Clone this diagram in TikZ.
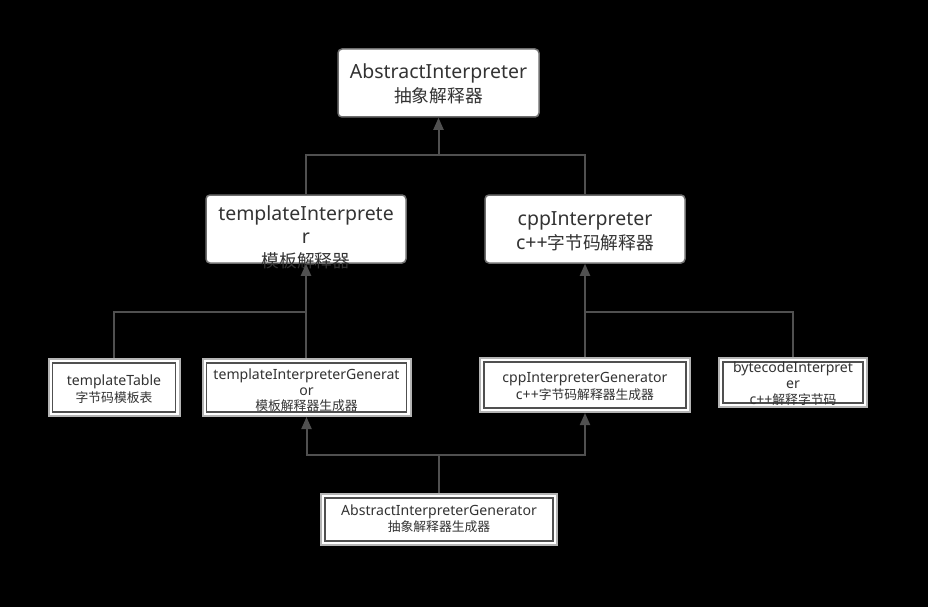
\documentclass[tikz,border=0pt]{standalone}
\usepackage{fontspec}
\setmainfont{Noto Sans}[Scale=1.1]
\newfontfamily\cjk{Noto Sans CJK SC}
\usetikzlibrary{arrows.meta}
\definecolor{ln}{HTML}{505050}
\definecolor{tx}{HTML}{333333}
\definecolor{bd}{HTML}{6E6E6E}
\definecolor{od}{HTML}{B4B4B4}
\begin{document}
\begin{tikzpicture}[x=1pt,y=-1pt,
  rbox/.style={draw=bd, fill=white, rounded corners=4pt, line width=1.5pt, inner sep=0pt},
  dbox/.style={draw=od, fill=white, line width=2pt, inner sep=0pt,
    path picture={\draw[ln,line width=1.5pt] ([shift={(4pt,4pt)}]path picture bounding box.south west) rectangle ([shift={(-4pt,-4pt)}]path picture bounding box.north east);}},
  big/.style={font=\fontsize{17.7}{24}\selectfont, text=tx, align=center, inner sep=0pt},
  small/.style={font=\fontsize{12.8}{16.5}\selectfont, text=tx, align=center, inner sep=0pt},
  conn/.style={draw=ln, line width=2pt},
  arr/.style={conn, -{Triangle[width=10pt,length=12pt]}}]

\fill[black] (0,0) rectangle (928,607);
\useasboundingbox (0,0) rectangle (928,607);

% boxes
\node[rbox, minimum width=201pt, minimum height=68pt] (A) at (438.5,83) {};
\node[big] (At) at (438.5,84) {AbstractInterpreter\\{\cjk 抽象解释器}};

\node[rbox, minimum width=200pt, minimum height=68pt] (T) at (306,229) {};
\node[big, font=\fontsize{17.7}{23.5}\selectfont] (Tt) at (306,237) {templateInterprete\\r\\{\cjk 模板解释器}};

\node[rbox, minimum width=200pt, minimum height=68pt] (C) at (585,229) {};
\node[big] (Ct) at (585,231) {cppInterpreter\\c++{\cjk 字节码解释器}};

\node[dbox, minimum width=131pt, minimum height=57pt] (TT) at (114,387.5) {};
\node[small, font=\fontsize{12.8}{17}\selectfont] (TTt) at (114,389.5) {templateTable\\{\cjk 字节码模板表}};

\node[dbox, minimum width=208pt, minimum height=57pt] (TG) at (306.5,387.5) {};
\node[small, font=\fontsize{12.8}{15.5}\selectfont] (TGt) at (306.5,390.5) {templateInterpreterGenerat\\or\\{\cjk 模板解释器生成器}};

\node[dbox, minimum width=210pt, minimum height=54pt] (CG) at (585,385) {};
\node[small, font=\fontsize{12.8}{17}\selectfont] (CGt) at (585,386.5) {cppInterpreterGenerator\\c++{\cjk 字节码解释器生成器}};

\node[dbox, minimum width=148pt, minimum height=49pt] (BI) at (793,382.5) {};
\node[small, font=\fontsize{12.8}{16}\selectfont] (BIt) at (793,384) {bytecodeInterpret\\er\\c++{\cjk 解释字节码}};

\node[dbox, minimum width=236pt, minimum height=51pt] (AG) at (439,519.5) {};
\node[small, font=\fontsize{12.8}{16}\selectfont] (AGt) at (439,519) {AbstractInterpreterGenerator\\{\cjk 抽象解释器生成器}};

% connectors
\coordinate (j1) at (438.5,155);
\draw[conn] (T.north) |- (j1) -| (C.north);
\draw[arr] (j1) -- (A.south);

\coordinate (j2) at (306,312);
\draw[conn] (TT.north) |- (j2);
\draw[arr] (T.south |- TG.north) -- (T.south);

\coordinate (j3) at (585,312);
\draw[conn] (BI.north) |- (j3);
\draw[arr] (CG.north) -- (C.south);

\coordinate (j4) at (439,455);
\draw[conn] (AG.north) -- (j4);
\draw[arr] (j4) -| (TG.south);
\draw[arr] (j4) -| (CG.south);
\end{tikzpicture}
\end{document}
